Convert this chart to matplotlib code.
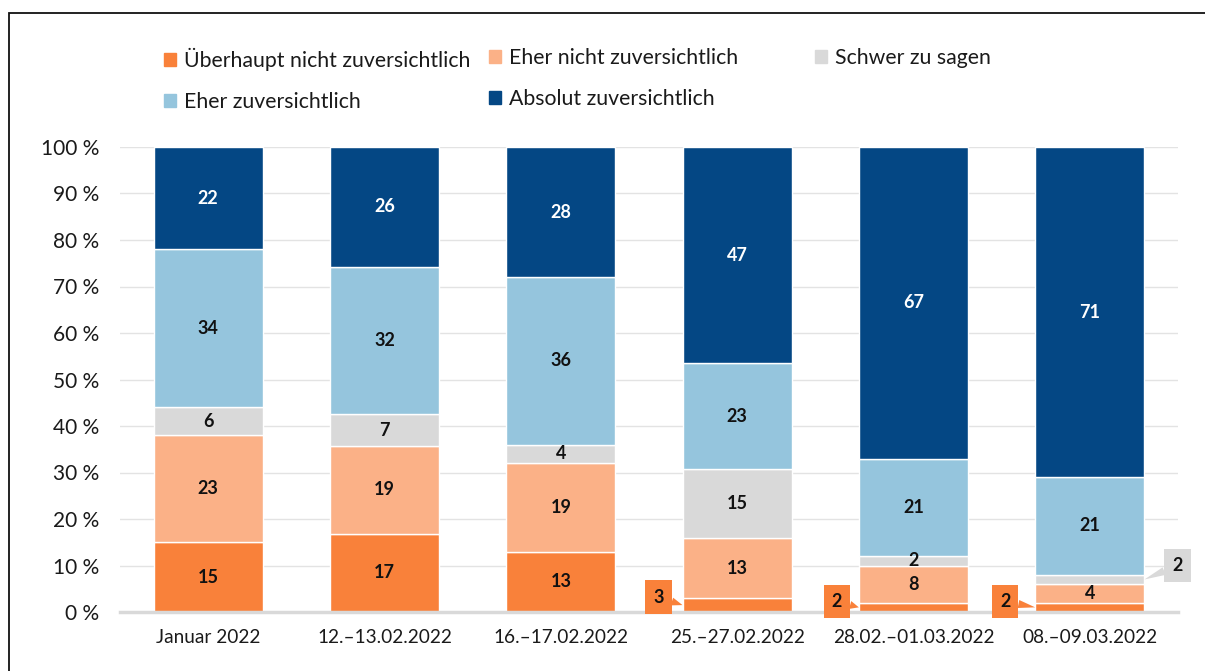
import numpy as np
import matplotlib
matplotlib.use("Agg")
import matplotlib.pyplot as plt
from matplotlib.patches import Rectangle, Patch

plt.rcParams['font.family'] = ['Lato', 'DejaVu Sans']

categories = ["Januar 2022", "12.–13.02.2022", "16.–17.02.2022",
              "25.–27.02.2022", "28.02.–01.03.2022", "08.–09.03.2022"]
series = ["Überhaupt nicht zuversichtlich", "Eher nicht zuversichtlich",
          "Schwer zu sagen", "Eher zuversichtlich", "Absolut zuversichtlich"]
ueberhaupt_nicht = [15, 17, 13, 3, 2, 2]
eher_nicht = [23, 19, 19, 13, 8, 4]
schwer = [6, 7, 4, 15, 2, 2]
eher_zuv = [34, 32, 36, 23, 21, 21]
absolut = [22, 26, 28, 47, 67, 71]
yticks = [0, 10, 20, 30, 40, 50, 60, 70, 80, 90, 100]
ytick_labels = [f"{v} %" for v in yticks]

colors = ["#F9813A", "#FBB187", "#D9D9D9", "#95C5DD", "#044784"]
text_colors = ["#111111", "#111111", "#111111", "#111111", "white"]

values = np.array([ueberhaupt_nicht, eher_nicht, schwer, eher_zuv, absolut], dtype=float)
shares = values / values.sum(axis=0) * 100

# callouts: (category index, series index, offset x px, offset y px, side)
callouts = [(3, 0, -24, 8, 'left'), (4, 0, -22, 6, 'left'), (5, 0, -30, 6, 'left'),
            (5, 2, 33, 14, 'right')]
callout_set = {(c, s) for c, s, *_ in callouts}

W, H = 1205, 671
fig = plt.figure(figsize=(W / 100, H / 100), dpi=100)
ax = fig.add_axes([120 / W, 1 - 612 / H, (1178 - 120) / W, (612 - 147) / H])

x = np.arange(len(categories))
bw = 0.62
bottom = np.zeros(len(categories))
for i, name in enumerate(series):
    ax.bar(x, shares[i], bw, bottom=bottom, color=colors[i], edgecolor='white',
           linewidth=1.0, label=name, zorder=3)
    for j in range(len(categories)):
        if (j, i) in callout_set:
            continue
        ax.text(x[j], bottom[j] + shares[i][j] / 2, f"{int(values[i][j])}",
                ha='center', va='center', fontsize=13, fontweight='bold',
                color=text_colors[i], zorder=5)
    bottom += shares[i]

# callouts
cum = np.vstack([np.zeros(len(categories)), np.cumsum(shares, axis=0)])
for c, s, dx, dy, side in callouts:
    ymid = (cum[s][c] + cum[s + 1][c]) / 2
    xe = x[c] - bw / 2 if side == 'left' else x[c] + bw / 2
    ax.annotate(f"{int(values[s][c])}", xy=(xe, ymid), xytext=(dx, dy),
                textcoords='offset pixels', ha='center', va='center',
                fontsize=13, fontweight='bold', color='#111111', zorder=6,
                bbox=dict(boxstyle='square,pad=0.45', fc=colors[s], ec='none'),
                arrowprops=dict(arrowstyle='wedge,tail_width=0.45,shrink_factor=0.5',
                                fc=colors[s], ec='none', shrinkA=0, shrinkB=0),
                annotation_clip=False)

ax.set_xlim(-0.5, len(categories) - 0.5)
ax.set_ylim(0, 100)
ax.set_yticks(yticks)
ax.set_yticklabels(ytick_labels, fontsize=15, color='#1a1a1a')
ax.set_xticks(x)
ax.set_xticklabels(categories, fontsize=13.7, color='#1a1a1a')
ax.tick_params(axis='both', length=0)
ax.tick_params(axis='y', pad=15)
ax.tick_params(axis='x', pad=12)
ax.grid(axis='y', color='#E3E3E3', linewidth=1.0, zorder=0)
for sp in ['top', 'right', 'left']:
    ax.spines[sp].set_visible(False)
ax.spines['bottom'].set_color('#D9D9D9')
ax.spines['bottom'].set_linewidth(2.5)
ax.spines['bottom'].set_zorder(4)

# legend in three columns
handles = [Patch(color=colors[i]) for i in range(len(series))]
cols = [([0, 3], 164), ([1, 4], 489), ([2], 815)]
for idxs, px in cols:
    leg = fig.legend([handles[i] for i in idxs], [series[i] for i in idxs],
                     loc='upper left', bbox_to_anchor=(px / W, 1 - 48 / H),
                     frameon=False, fontsize=15.3, handlelength=0.55, handleheight=0.55,
                     handletextpad=0.4, labelspacing=1.0, borderaxespad=0,
                     borderpad=0)
    for t in leg.get_texts():
        t.set_color('#1a1a1a')

# outer frame
fig.patches.append(Rectangle((8.5 / W, -0.1), 1.2, 1 - 12.5 / H + 0.1,
                             transform=fig.transFigure, fill=False,
                             ec='#111111', lw=1.3))

fig.savefig("out.png", dpi=100)
